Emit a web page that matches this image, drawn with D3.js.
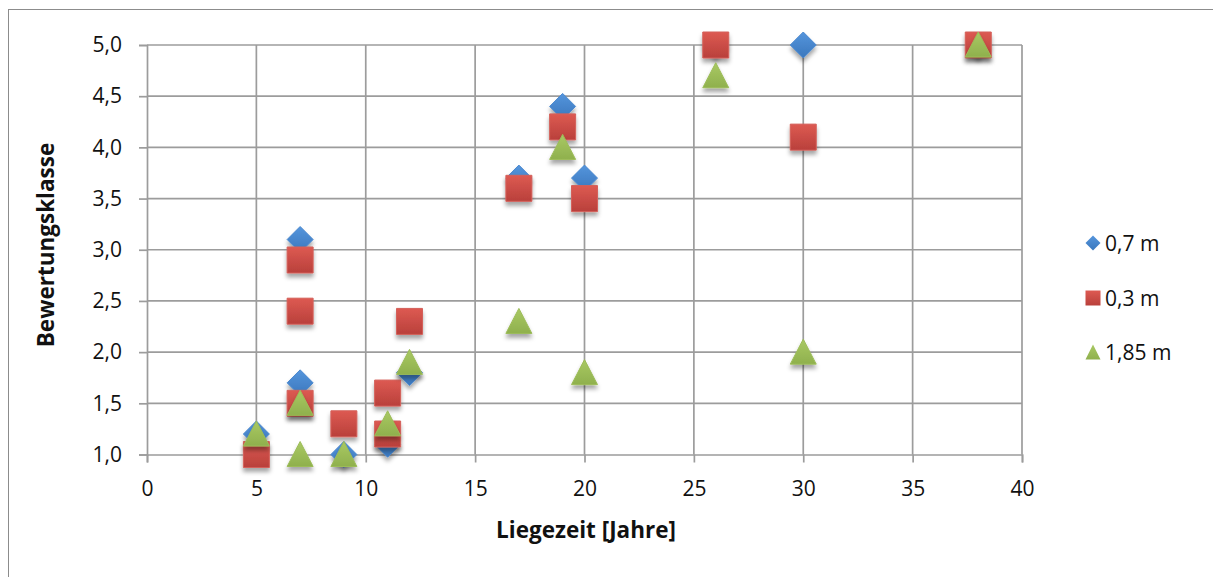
<!DOCTYPE html>
<html><head><meta charset="utf-8">
<script src="https://cdn.jsdelivr.net/npm/d3@7"></script>
<style>body{margin:0;background:#fff}svg{display:block}text{font-family:"Open Sans",sans-serif;fill:#111}</style>
</head><body><svg id="c" width="1213" height="577"></svg>
<script>
const seriesNames = ["0,7 m", "0,3 m", "1,85 m"];
const s07x = [5, 7, 7, 9, 11, 12, 17, 19, 20, 26, 30, 38];
const s07y = [1.2, 3.1, 1.7, 1.0, 1.1, 1.8, 3.7, 4.4, 3.7, 5.0, 5.0, 5.0];
const s03x = [5, 7, 7, 7, 9, 11, 11, 12, 17, 19, 20, 26, 30, 38];
const s03y = [1.0, 2.9, 2.4, 1.5, 1.3, 1.6, 1.2, 2.3, 3.6, 4.2, 3.5, 5.0, 4.1, 5.0];
const s185x = [5, 7, 7, 9, 11, 12, 17, 19, 20, 26, 30, 38];
const s185y = [1.2, 1.5, 1.0, 1.0, 1.3, 1.9, 2.3, 4.0, 1.8, 4.7, 2.0, 5.0];
const xTicks = [0, 5, 10, 15, 20, 25, 30, 35, 40];
const yTicks = [1.0, 1.5, 2.0, 2.5, 3.0, 3.5, 4.0, 4.5, 5.0];
const xTitle = "Liegezeit [Jahre]";
const yTitle = "Bewertungsklasse";

const svg = d3.select("#c");
const x = d3.scaleLinear().domain([0, 40]).range([147, 1022]);
const y = d3.scaleLinear().domain([1, 5]).range([454.5, 45]);
const fmt = v => d3.format(".1f")(v).replace(".", ",");

// outer border
svg.append("rect").attr("x", 8.5).attr("y", 9.5).attr("width", 1300).attr("height", 700)
  .attr("fill", "none").attr("stroke", "#8c8c8c").attr("stroke-width", 1);

const defs = svg.append("defs");
const f = defs.append("filter").attr("id", "sh").attr("x", "-50%").attr("y", "-50%").attr("width", "200%").attr("height", "220%");
f.append("feDropShadow").attr("dx", 0).attr("dy", 4).attr("stdDeviation", 2.2).attr("flood-color", "#000").attr("flood-opacity", 0.35);
function grad(id, c1, c2) {
  const g = defs.append("linearGradient").attr("id", id).attr("x1", 0).attr("y1", 0).attr("x2", 0).attr("y2", 1);
  g.append("stop").attr("offset", 0).attr("stop-color", c1);
  g.append("stop").attr("offset", 1).attr("stop-color", c2);
}
grad("gb", "#5595dc", "#3a77bd");
grad("gr", "#dd5a52", "#b9403b");
grad("gg", "#a9c963", "#8fb04d");

const gridC = "#9c9c9c";
// grid
svg.append("g").selectAll("line").data(yTicks.slice(1)).join("line")
  .attr("x1", x(0)).attr("x2", x(40)).attr("y1", d => y(d)).attr("y2", d => y(d))
  .attr("stroke", gridC).attr("stroke-width", 1.7);
svg.append("g").selectAll("line").data(xTicks.slice(1)).join("line")
  .attr("x1", d => x(d)).attr("x2", d => x(d)).attr("y1", y(5)).attr("y2", y(1))
  .attr("stroke", gridC).attr("stroke-width", 1.7);

// axes
const xAxis = d3.axisBottom(x).tickValues(xTicks).tickSize(8).tickPadding(19).tickFormat(d3.format("d"));
const gx = svg.append("g").attr("transform", `translate(0,${y(1)})`).call(xAxis);
const yAxis = d3.axisLeft(y).tickValues(yTicks).tickSize(8).tickPadding(17).tickFormat(fmt);
const gy = svg.append("g").attr("transform", `translate(${x(0)},0)`).call(yAxis);
[gx, gy].forEach(g => {
  g.select(".domain").attr("stroke", gridC).attr("stroke-width", 1.7);
  g.selectAll(".tick line").attr("stroke", gridC).attr("stroke-width", 1.7);
  g.selectAll("text").attr("font-family", "Open Sans").attr("font-size", 21).attr("fill", "#111");
});

// titles
svg.append("text").attr("x", 586).attr("y", 538).attr("text-anchor", "middle")
  .attr("font-size", 22.5).attr("font-weight", "bold").text(xTitle);
svg.append("text").attr("transform", "translate(54,245) rotate(-90)").attr("text-anchor", "middle")
  .attr("font-size", 22.5).attr("font-weight", "bold").text(yTitle);

const S = 13;
const diamond = `M0,${-S} L${S},0 L0,${S} L${-S},0 Z`;
const square = `M${-S},${-S} H${S} V${S} H${-S} Z`;
const tri = `M0,${-S} L${S},${S - 1} L${-S},${S - 1} Z`;

function drawSeries(xs, ys, path, fill, stroke) {
  svg.append("g").selectAll("path").data(xs.map((v, i) => [v, ys[i]])).join("path")
    .attr("d", path).attr("transform", d => `translate(${x(d[0])},${y(d[1])})`)
    .attr("fill", fill).attr("stroke", stroke).attr("stroke-width", 1).attr("filter", "url(#sh)");
}
drawSeries(s07x, s07y, diamond, "url(#gb)", "#4a88cf");
drawSeries(s03x, s03y, square, "url(#gr)", "#d4605a");
drawSeries(s185x, s185y, tri, "url(#gg)", "#9cbc58");

// legend
const L = 7.5;
const legShapes = [
  `M0,${-L} L${L},0 L0,${L} L${-L},0 Z`,
  `M${-L},${-L} H${L} V${L} H${-L} Z`,
  `M0,${-L} L${L},${L} L${-L},${L} Z`
];
const legFills = ["url(#gb)", "url(#gr)", "url(#gg)"];
const legY = [243, 298, 352];
const lg = svg.append("g");
seriesNames.forEach((n, i) => {
  lg.append("path").attr("d", legShapes[i]).attr("transform", `translate(1093,${legY[i]})`).attr("fill", legFills[i]);
  lg.append("text").attr("x", 1105).attr("y", legY[i] + 7.5).attr("font-size", 21).text(n);
});
</script></body></html>
